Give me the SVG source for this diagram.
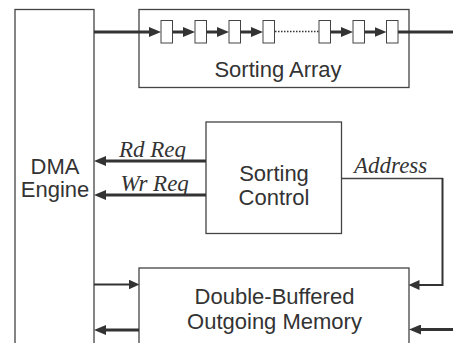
<svg xmlns="http://www.w3.org/2000/svg" width="453" height="343" viewBox="0 0 453 343">
<style>
.box{fill:#fff;stroke:#444;stroke-width:1.3}
.cell{fill:#fff;stroke:#444;stroke-width:1}
.lbl{font-family:"Liberation Sans",Arial,sans-serif;font-size:22px;fill:#333;text-anchor:middle}
.sig{font-family:"Liberation Serif","Times New Roman",serif;font-style:italic;font-size:23px;fill:#333}
.w{fill:none;stroke:#333;stroke-width:3}
.m{fill:none;stroke:#333;stroke-width:2}
.t{fill:none;stroke:#444;stroke-width:1.3}
.dot{fill:none;stroke:#333;stroke-width:1.5;stroke-dasharray:1.5 1.5}
</style>
<defs>
<marker id="ah" markerUnits="userSpaceOnUse" markerWidth="12" markerHeight="10" viewBox="0 0 12 10" refX="6" refY="5" orient="auto">
<path d="M0,0 L12,5 L0,10 z" fill="#333"/>
</marker>
<marker id="ahs" markerUnits="userSpaceOnUse" markerWidth="11" markerHeight="10" viewBox="0 0 11 10" refX="5" refY="5" orient="auto">
<path d="M0,0 L11,5 L0,10 z" fill="#333"/>
</marker>
</defs>
<g id="dma">
<rect class="box" x="15" y="9.5" width="79" height="345"/>
<text class="lbl" x="55" y="174">DMA</text>
<text class="lbl" x="55" y="197">Engine</text>
</g>
<g id="sorting-array">
<rect class="box" x="139" y="9.5" width="270" height="78"/>
<rect class="cell" x="161" y="20.5" width="11.5" height="22.5"/>
<rect class="cell" x="195" y="20.5" width="11.5" height="22.5"/>
<rect class="cell" x="229" y="20.5" width="11.5" height="22.5"/>
<rect class="cell" x="263" y="20.5" width="11.5" height="22.5"/>
<rect class="cell" x="319" y="20.5" width="11.5" height="22.5"/>
<rect class="cell" x="353" y="20.5" width="11.5" height="22.5"/>
<rect class="cell" x="386.5" y="20.5" width="11.5" height="22.5"/>
<text class="lbl" x="278" y="77">Sorting Array</text>
</g>
<g id="sorting-control">
<rect class="box" x="206" y="122" width="135.5" height="111.5"/>
<text class="lbl" x="274" y="181">Sorting</text>
<text class="lbl" x="274" y="205">Control</text>
</g>
<g id="outgoing-memory">
<rect class="box" x="139" y="268" width="270" height="90"/>
<text class="lbl" x="274.5" y="303.5">Double-Buffered</text>
<text class="lbl" x="274.5" y="329">Outgoing Memory</text>
</g>
<g id="connectors">
<line class="w" x1="94" y1="32" x2="155" y2="32" marker-end="url(#ah)"/>
<line class="w" x1="172.5" y1="32" x2="189" y2="32" marker-end="url(#ah)"/>
<line class="w" x1="206.5" y1="32" x2="223" y2="32" marker-end="url(#ah)"/>
<line class="w" x1="240.5" y1="32" x2="257" y2="32" marker-end="url(#ah)"/>
<line class="dot" x1="275" y1="31.5" x2="319" y2="31.5"/>
<line class="w" x1="330.5" y1="32" x2="347" y2="32" marker-end="url(#ah)"/>
<line class="w" x1="364.5" y1="32" x2="380.5" y2="32" marker-end="url(#ah)"/>
<line class="w" x1="398" y1="32" x2="453" y2="32"/>
<line class="w" x1="206" y1="161" x2="100" y2="161" marker-end="url(#ah)"/>
<text class="sig" x="119" y="157">Rd Req</text>
<line class="w" x1="206" y1="195" x2="100" y2="195" marker-end="url(#ah)"/>
<text class="sig" x="120.5" y="191">Wr Req</text>
<line class="t" x1="341.5" y1="178.5" x2="443" y2="178.5"/>
<path class="m" d="M442.5,178 V285 H414.5" marker-end="url(#ahs)"/>
<text class="sig" x="354" y="172.5">Address</text>
<line class="m" x1="94" y1="284.5" x2="133.5" y2="284.5" marker-end="url(#ahs)"/>
<line class="w" x1="139" y1="330" x2="100" y2="330" marker-end="url(#ah)"/>
<line class="w" x1="453" y1="329.5" x2="415" y2="329.5" marker-end="url(#ah)"/>
</g>
</svg>
